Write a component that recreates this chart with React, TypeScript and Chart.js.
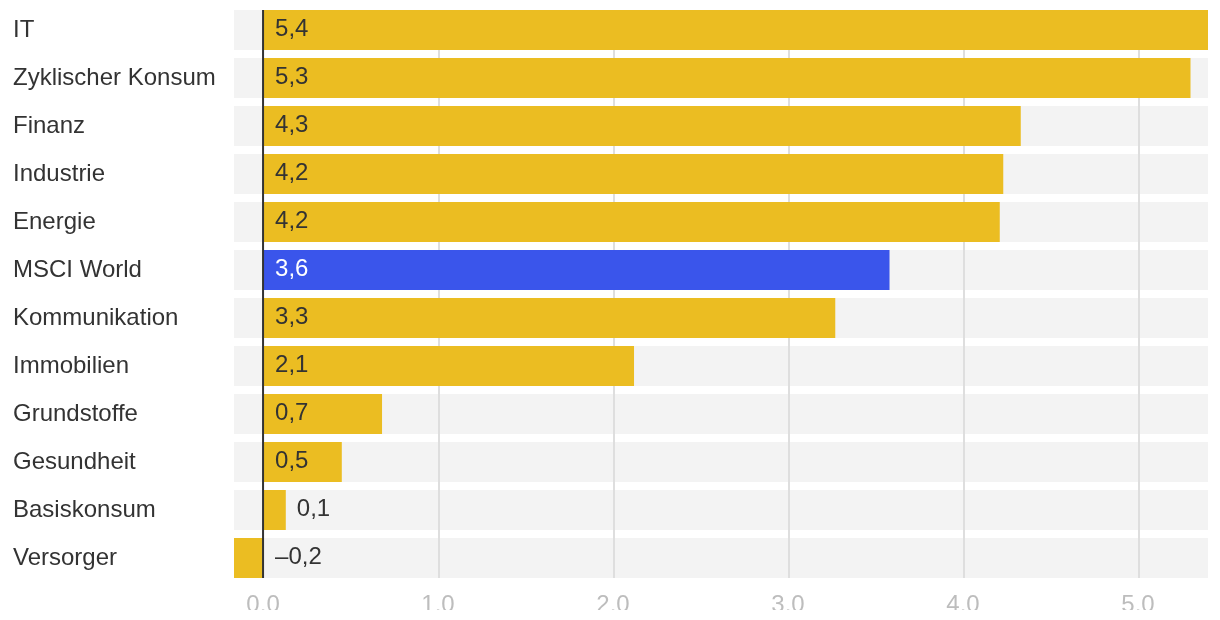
import React, { useEffect, useRef } from "react";
import { Chart, registerables } from "chart.js";

Chart.register(...registerables);

const categories = [
  "IT",
  "Zyklischer Konsum",
  "Finanz",
  "Industrie",
  "Energie",
  "MSCI World",
  "Kommunikation",
  "Immobilien",
  "Grundstoffe",
  "Gesundheit",
  "Basiskonsum",
  "Versorger",
];
const values = [5.4, 5.3, 4.33, 4.23, 4.21, 3.58, 3.27, 2.12, 0.68, 0.45, 0.13, -0.17];
const valueLabels = ["5,4", "5,3", "4,3", "4,2", "4,2", "3,6", "3,3", "2,1", "0,7", "0,5", "0,1", "–0,2"];
const highlight = "MSCI World";
const xTicks = [0, 1, 2, 3, 4, 5];
const xMin = -0.166;
const xMax = 5.4;

const YELLOW = "#EBBD22";
const BLUE = "#3A55EB";
const BAND = "#F3F3F3";
const GRID = "#DEDEDE";
const TEXT = "#333333";
const FONT = "'Liberation Sans', Arial, Helvetica, sans-serif";
const FS = 24;

const bandPlugin = {
  id: "bands",
  beforeDraw(chart: any) {
    const { ctx, chartArea } = chart;
    const meta = chart.getDatasetMeta(0);
    ctx.save();
    ctx.fillStyle = BAND;
    meta.data.forEach((el: any) => {
      const h = el.height;
      ctx.fillRect(chartArea.left, el.y - h / 2, chartArea.right - chartArea.left, h);
    });
    ctx.restore();
  },
  beforeDatasetsDraw(chart: any) {
    const { ctx } = chart;
    const xs = chart.scales.x;
    const meta = chart.getDatasetMeta(0);
    const first = meta.data[0];
    const last = meta.data[meta.data.length - 1];
    const top = first.y - first.height / 2;
    const bottom = last.y + last.height / 2;
    ctx.save();
    ctx.strokeStyle = GRID;
    ctx.lineWidth = 2;
    xTicks.forEach((t) => {
      if (t === 0) return;
      const x = Math.round(xs.getPixelForValue(t)) + 1;
      ctx.beginPath();
      ctx.moveTo(x, top);
      ctx.lineTo(x, bottom);
      ctx.stroke();
    });
    ctx.restore();
  },
};

const overlayPlugin = {
  id: "overlay",
  afterDatasetsDraw(chart: any) {
    const { ctx } = chart;
    const xs = chart.scales.x;
    const meta = chart.getDatasetMeta(0);
    const zero = xs.getPixelForValue(0);
    ctx.save();
    ctx.font = `${FS}px ${FONT}`;
    ctx.textBaseline = "middle";
    ctx.textAlign = "left";
    meta.data.forEach((el: any, i: number) => {
      const v = values[i];
      const label = valueLabels[i];
      const end = xs.getPixelForValue(v);
      const w = ctx.measureText(label).width;
      let x: number;
      let color = TEXT;
      if (v < 0) {
        x = zero + 12;
      } else if (end - zero > w + 24) {
        x = zero + 12;
        if (categories[i] === highlight) color = "#FFFFFF";
      } else {
        x = end + 11;
      }
      ctx.fillStyle = color;
      ctx.fillText(label, x, el.y - 1);
    });
    const first = meta.data[0];
    const last = meta.data[meta.data.length - 1];
    ctx.strokeStyle = TEXT;
    ctx.lineWidth = 2;
    ctx.beginPath();
    ctx.moveTo(zero, first.y - first.height / 2);
    ctx.lineTo(zero, last.y + last.height / 2);
    ctx.stroke();
    ctx.restore();
  },
};

export default function App() {
  const ref = useRef<HTMLCanvasElement | null>(null);
  useEffect(() => {
    if (!ref.current) return;
    const chart = new Chart(ref.current, {
      type: "bar",
      data: {
        labels: categories,
        datasets: [
          {
            data: values,
            backgroundColor: categories.map((c) => (c === highlight ? BLUE : YELLOW)),
            borderWidth: 0,
            categoryPercentage: 1,
            barPercentage: 40 / 48,
          },
        ],
      },
      options: {
        indexAxis: "y",
        animation: false,
        responsive: true,
        maintainAspectRatio: false,
        layout: { padding: { left: 13, top: 6, right: 12, bottom: 0 } },
        plugins: {
          legend: { display: false },
          tooltip: { enabled: false },
        },
        scales: {
          x: {
            type: "linear",
            min: xMin,
            max: xMax,
            afterBuildTicks: (scale: any) => {
              scale.ticks = xTicks.map((v) => ({ value: v }));
            },
            afterFit: (scale: any) => {
              scale.height = 28;
              scale.paddingLeft = 0;
              scale.paddingRight = 0;
            },
            border: { display: false },
            grid: { display: false, drawTicks: false },
            ticks: {
              padding: 9,
              color: "#BDBDBD",
              font: { family: FONT, size: FS },
              maxRotation: 0,
              callback: (v: any) => Number(v).toFixed(1),
            },
          },
          y: {
            type: "category",
            offset: true,
            afterFit: (scale: any) => {
              scale.width = 221;
              scale.paddingTop = 0;
              scale.paddingBottom = 0;
            },
            border: { display: false },
            grid: { display: false, drawTicks: false },
            ticks: {
              crossAlign: "far",
              color: TEXT,
              font: { family: FONT, size: FS },
              padding: 0,
            },
          },
        },
      },
      plugins: [bandPlugin, overlayPlugin],
    });
    return () => chart.destroy();
  }, []);
  return (
    <div style={{ position: "fixed", left: 0, top: 0, width: 1220, height: 620, background: "#fff" }}>
      <div style={{ position: "relative", width: 1220, height: 610, overflow: "hidden" }}>
        <canvas ref={ref} />
      </div>
    </div>
  );
}
